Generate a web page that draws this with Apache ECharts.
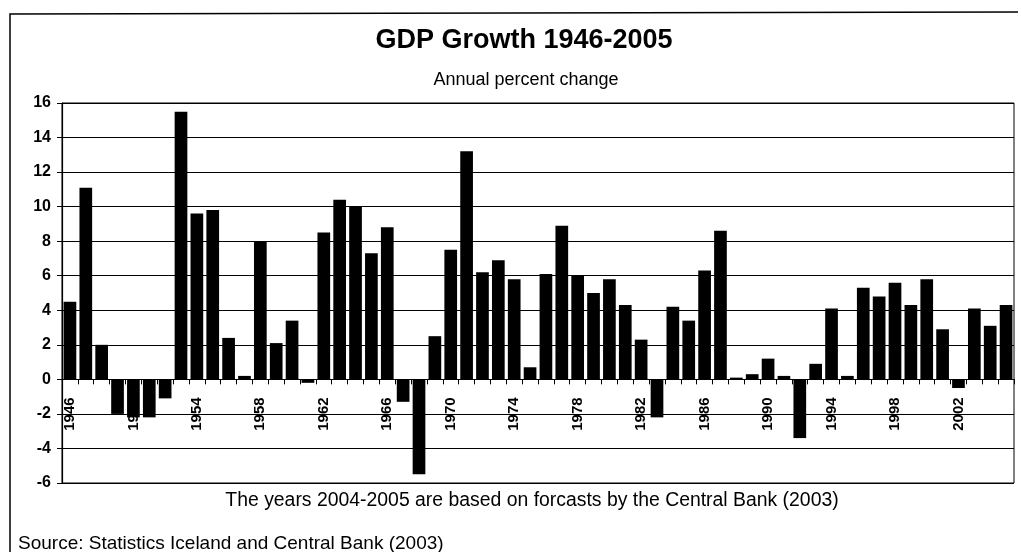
<!DOCTYPE html>
<html>
<head>
<meta charset="utf-8">
<title>GDP Growth 1946-2005</title>
<script src="https://cdn.jsdelivr.net/npm/echarts@6/dist/echarts.min.js"></script>
<style>
  html, body { margin: 0; padding: 0; background: #fff; }
  #chart { width: 1021px; height: 552px; }
</style>
</head>
<body>
<div id="chart"></div>
<script>
// Years shown on the category axis
const years = [];
for (let y = 1946; y <= 2005; y++) years.push(String(y));

// Annual GDP growth, percent
const growth = [
  4.5, 11.1, 2.0, -2.0, -2.2, -2.2, -1.1, 15.5, 9.6, 9.8,
  2.4, 0.2, 8.0, 2.1, 3.4, -0.2, 8.5, 10.4, 10.0, 7.3,
  8.8, -1.3, -5.5, 2.5, 7.5, 13.2, 6.2, 6.9, 5.8, 0.7,
  6.1, 8.9, 6.0, 5.0, 5.8, 4.3, 2.3, -2.2, 4.2, 3.4,
  6.3, 8.6, 0.1, 0.3, 1.2, 0.2, -3.4, 0.9, 4.1, 0.2,
  5.3, 4.8, 5.6, 4.3, 5.8, 2.9, -0.5, 4.1, 3.1, 4.3
];

// Value axis range
const yMin = -6;
const yMax = 16;
const yStep = 2;

const titleText = 'GDP Growth 1946-2005';
const subtitleText = 'Annual percent change';
const noteText = 'The years 2004-2005 are based on forcasts by the Central Bank (2003)';
const sourceText = 'Source: Statistics Iceland and Central Bank (2003)';

const FONT = 'Arial, "Liberation Sans", sans-serif';

// plot area geometry
const GRID_TOP = 103;
const GRID_BOTTOM = 69;
const CHART_H = 552;
const plotH = CHART_H - GRID_TOP - GRID_BOTTOM;
// the category axis sits on the zero line; shift it up from the grid bottom
const zeroOffset = -plotH * (0 - yMin) / (yMax - yMin);

const chart = echarts.init(document.getElementById('chart'), null, { renderer: 'canvas' });

chart.setOption({
  animation: false,
  backgroundColor: '#fff',
  textStyle: { fontFamily: FONT, color: '#000' },
  title: [
    {
      text: titleText,
      left: 519, top: 22, textAlign: 'center',
      textStyle: { fontFamily: FONT, fontSize: 27, fontWeight: 'bold', color: '#000' }
    },
    {
      text: subtitleText,
      left: 521, top: 66, textAlign: 'center',
      textStyle: { fontFamily: FONT, fontSize: 18, fontWeight: 'normal', color: '#000' }
    },
    {
      text: noteText,
      left: 527, top: 486, textAlign: 'center',
      textStyle: { fontFamily: FONT, fontSize: 19.4, fontWeight: 'normal', color: '#000' }
    },
    {
      text: sourceText,
      left: 13, top: 529,
      textStyle: { fontFamily: FONT, fontSize: 19, fontWeight: 'normal', color: '#000' }
    }
  ],
  graphic: [
    // outer frame: top and left edges
    {
      type: 'polyline',
      shape: { points: [[10, 552], [10, 14], [1018, 12]] },
      style: { stroke: '#000', lineWidth: 1.5, fill: null },
      silent: true
    }
  ],
  grid: {
    left: 62, right: 7, top: GRID_TOP, bottom: GRID_BOTTOM,
    show: true, borderColor: '#000', borderWidth: 1, backgroundColor: 'transparent'
  },
  xAxis: {
    type: 'category',
    data: years,
    offset: zeroOffset,
    axisLine: { onZero: false, lineStyle: { color: '#000', width: 1.2 } },
    axisTick: { show: true, interval: 0, length: 5, lineStyle: { color: '#000' } },
    axisLabel: {
      interval: 3,
      rotate: 90,
      margin: 18,
      color: '#000',
      fontFamily: FONT,
      fontSize: 15,
      fontWeight: 'bold'
    },
    splitLine: { show: false }
  },
  yAxis: {
    type: 'value',
    min: yMin, max: yMax, interval: yStep,
    axisLine: { show: true, lineStyle: { color: '#000', width: 1.2 } },
    axisTick: { show: true, length: 5, lineStyle: { color: '#000' } },
    axisLabel: {
      color: '#000', fontFamily: FONT, fontSize: 16, fontWeight: 'bold', margin: 11
    },
    splitLine: { show: true, lineStyle: { color: '#000', width: 1 } }
  },
  series: [
    {
      type: 'bar',
      data: growth,
      barCategoryGap: '20%',
      itemStyle: { color: '#000' },
      z: 3
    }
  ]
});
</script>
</body>
</html>
